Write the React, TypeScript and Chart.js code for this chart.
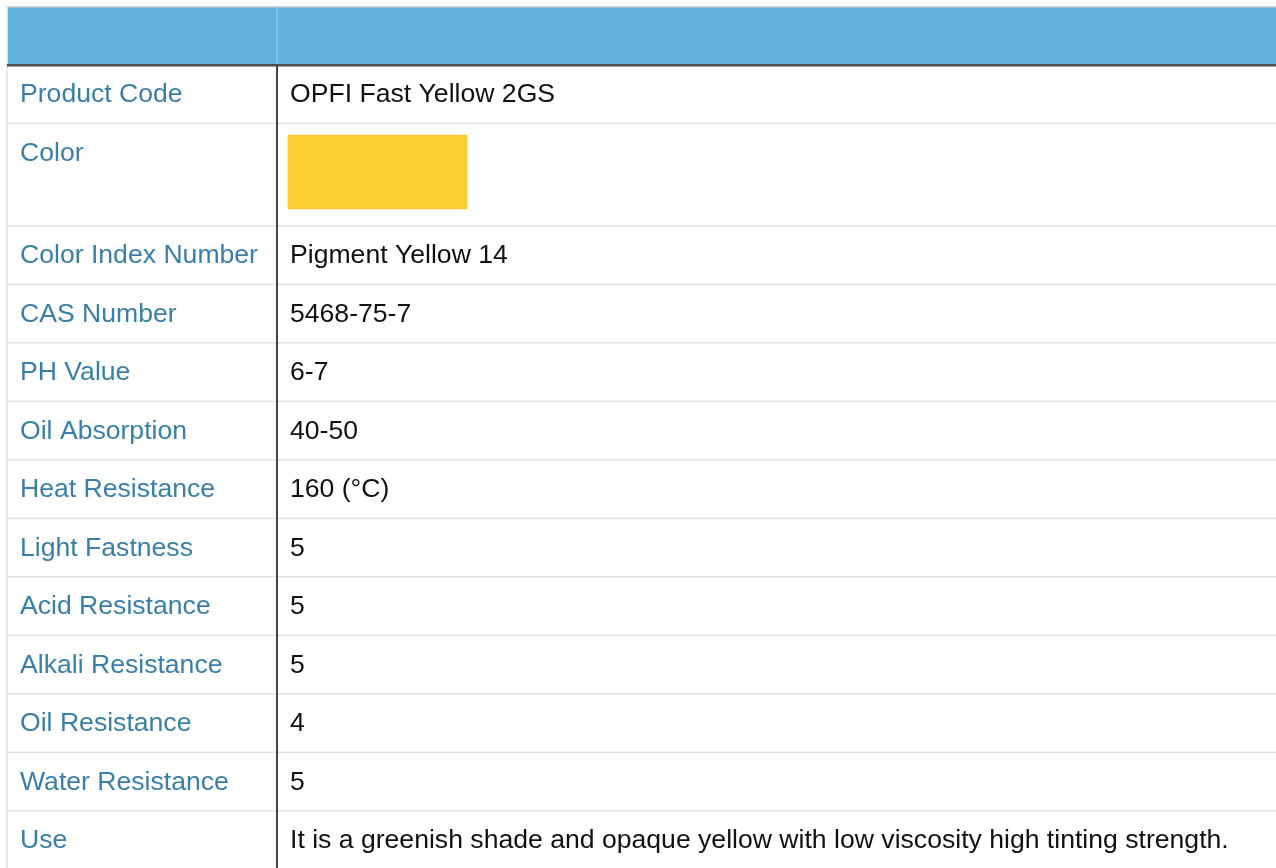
import React, { useEffect, useRef } from "react";
import { Chart, registerables } from "chart.js";

Chart.register(...registerables);

// ---- data ----
const rowLabels: string[] = [
  "Product Code",
  "Color",
  "Color Index Number",
  "CAS Number",
  "PH Value",
  "Oil Absorption",
  "Heat Resistance",
  "Light Fastness",
  "Acid Resistance",
  "Alkali Resistance",
  "Oil Resistance",
  "Water Resistance",
  "Use",
];
const rowValues: string[] = [
  "OPFI Fast Yellow 2GS",
  "",
  "Pigment Yellow 14",
  "5468-75-7",
  "6-7",
  "40-50",
  "160 (°C)",
  "5",
  "5",
  "5",
  "4",
  "5",
  "It is a greenish shade and opaque yellow with low viscosity high tinting strength.",
];
const swatchRowLabel = "Color";
const swatchColors: string[] = ["#facd32"];

// ---- layout (pixel-like units of the scales) ----
const W = 1276;
const H = 868;
const TABLE_LEFT = 7;
const TABLE_TOP = 7;
const HEADER_BOTTOM = 65;
const ROW_H = 58.5;
const TALL_ROW_H = 102.5;
const DIVIDER_X = 277;
const LABEL_X = 20;
const VALUE_X = 290;
const TEXT_OFFSET = 30;
const SWATCH_X0 = 288;
const SWATCH_W = 179;
const SWATCH_TOP_OFF = 11.5;
const SWATCH_H = 74;

const FONT = 'Arial, "Liberation Sans", Helvetica, sans-serif';
const FONT_SIZE = 26.6;
const LABEL_COLOR = "#3a7fa7";
const VALUE_COLOR = "#111111";
const HEADER_BLUE = "#62b0dd";

function rowTops(): number[] {
  const tops: number[] = [];
  let y = HEADER_BOTTOM;
  rowLabels.forEach((l) => {
    tops.push(y);
    y += l === swatchRowLabel ? TALL_ROW_H : ROW_H;
  });
  tops.push(y);
  return tops;
}

export default function App() {
  const ref = useRef<HTMLCanvasElement | null>(null);

  useEffect(() => {
    const canvas = ref.current;
    if (!canvas) return;
    const tops = rowTops();
    const swatchIdx = rowLabels.indexOf(swatchRowLabel);
    const swatchCenter = tops[swatchIdx] + SWATCH_TOP_OFF + SWATCH_H / 2;

    const tablePlugin = {
      id: "tablePlugin",
      beforeDatasetsDraw(chart: any) {
        const { ctx } = chart;
        const xs = chart.scales.x;
        const ys = chart.scales.y;
        const px = (v: number) => xs.getPixelForValue(v);
        const py = (v: number) => ys.getPixelForValue(v);
        ctx.save();
        ctx.fillStyle = "#ffffff";
        ctx.fillRect(0, 0, W, H);
        // header
        ctx.fillStyle = HEADER_BLUE;
        ctx.fillRect(px(TABLE_LEFT), py(TABLE_TOP), px(W) - px(TABLE_LEFT), py(HEADER_BOTTOM) - py(TABLE_TOP));
        // top border
        ctx.fillStyle = "#d6d6d6";
        ctx.fillRect(px(TABLE_LEFT - 1), py(TABLE_TOP - 1), px(W), 1.5);
        // left border
        ctx.fillStyle = "#e2e2e2";
        ctx.fillRect(px(TABLE_LEFT - 0.5), py(TABLE_TOP), 1.5, py(H) - py(TABLE_TOP));
        // header divider
        ctx.fillStyle = "#a9cde6";
        ctx.fillRect(px(DIVIDER_X - 0.5), py(TABLE_TOP), 1, py(HEADER_BOTTOM) - py(TABLE_TOP));
        // row separators
        ctx.fillStyle = "#e1e1e1";
        for (let i = 1; i < tops.length; i++) {
          ctx.fillRect(px(TABLE_LEFT), py(tops[i]) - 1, px(W) - px(TABLE_LEFT), 1.6);
        }
        // header bottom line
        ctx.fillStyle = "#4e4e4e";
        ctx.fillRect(px(TABLE_LEFT), py(HEADER_BOTTOM) - 1, px(W) - px(TABLE_LEFT), 2);
        ctx.fillStyle = "#8a8a8a";
        ctx.fillRect(px(TABLE_LEFT), py(HEADER_BOTTOM) + 1, px(W) - px(TABLE_LEFT), 0.8);
        // vertical divider
        ctx.fillStyle = "#454545";
        ctx.fillRect(px(DIVIDER_X - 1), py(HEADER_BOTTOM), 2, py(H) - py(HEADER_BOTTOM));
        ctx.restore();
      },
      afterDatasetsDraw(chart: any) {
        const { ctx } = chart;
        const xs = chart.scales.x;
        const ys = chart.scales.y;
        ctx.save();
        ctx.font = `${FONT_SIZE}px ${FONT}`;
        ctx.textBaseline = "middle";
        ctx.textAlign = "left";
        rowLabels.forEach((l, i) => {
          const y = ys.getPixelForValue(tops[i] + TEXT_OFFSET);
          ctx.fillStyle = LABEL_COLOR;
          ctx.fillText(l, xs.getPixelForValue(LABEL_X), y);
          if (rowValues[i]) {
            ctx.fillStyle = VALUE_COLOR;
            ctx.fillText(rowValues[i], xs.getPixelForValue(VALUE_X), y);
          }
        });
        ctx.restore();
      },
    };

    const chart = new Chart(canvas, {
      type: "bar",
      data: {
        datasets: [
          {
            data: [{ x: [SWATCH_X0, SWATCH_X0 + SWATCH_W], y: swatchCenter }] as any,
            backgroundColor: swatchColors[0],
            borderWidth: 0,
            barThickness: SWATCH_H,
            grouped: false,
          } as any,
        ],
      },
      options: {
        indexAxis: "y",
        animation: false,
        responsive: false,
        events: [],
        layout: { padding: 0 },
        plugins: { legend: { display: false }, tooltip: { enabled: false }, title: { display: false } },
        scales: {
          x: { type: "linear", min: 0, max: W, display: false, offset: false },
          y: { type: "linear", min: 0, max: H, reverse: true, display: false, offset: false },
        },
      },
      plugins: [tablePlugin],
    });
    return () => chart.destroy();
  }, []);

  return (
    <div style={{ position: "fixed", left: 0, top: 0, width: W, height: H, overflow: "hidden", background: "#fff" }}>
      <canvas ref={ref} width={W} height={H} style={{ display: "block", width: W, height: H }} />
    </div>
  );
}
